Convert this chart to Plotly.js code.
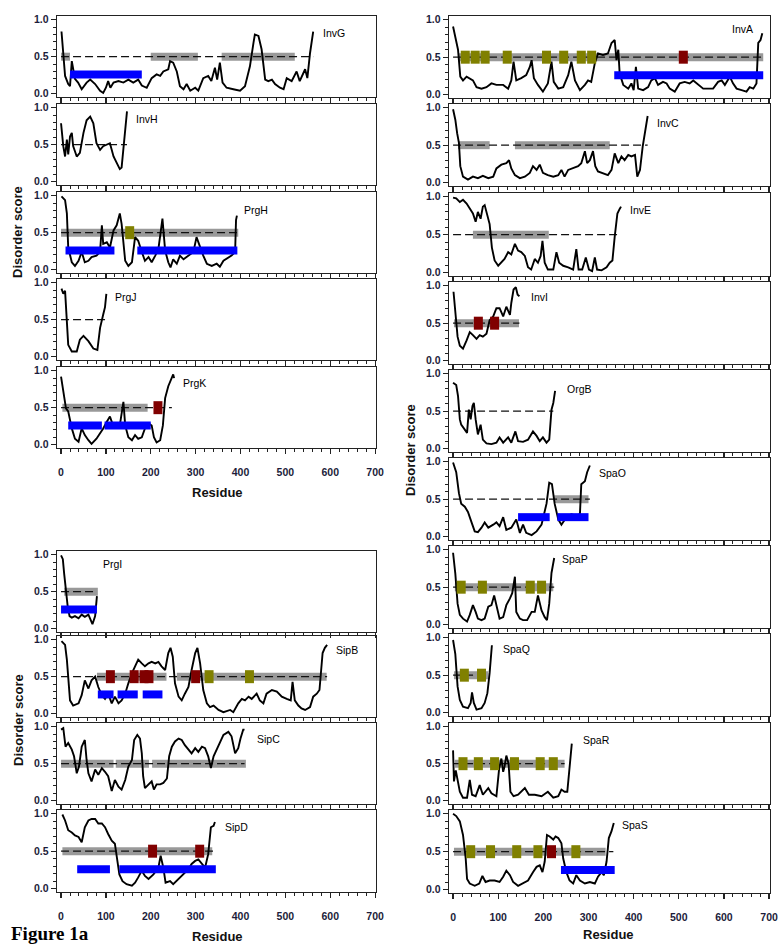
<!DOCTYPE html>
<html><head><meta charset="utf-8">
<script src="https://cdn.plot.ly/plotly-3.0.1.min.js"></script>
<style>html,body{margin:0;padding:0;background:#fff}#c{width:779px;height:945px}</style>
</head><body><div id="c"></div>
<script>
// ---------- DATA (residue, disorder score) ----------
const invG_x=[1,5,9,16,20,24,27,31,38,46,57,65,76,87,94,100,105,110,117,128,139,150,161,172,180,191,202,213,221,228,239,243,250,258,265,273,280,288,299,306,317,328,335,343,348,354,360,369,384,399,410,421,429,432,440,447,455,462,470,477,488,496,503,514,525,532,544,549,555,562];
const invG_y=[0.84,0.5,0.24,0.13,0.1,0.44,0.35,0.2,0.15,0.06,0.15,0.19,0.13,0.04,0.01,0.08,0.17,0.08,0.15,0.17,0.15,0.19,0.15,0.19,0.11,0.08,0.21,0.26,0.24,0.3,0.33,0.44,0.42,0.3,0.1,0.06,0.13,0.04,0.08,0.04,0.21,0.24,0.17,0.35,0.19,0.42,0.15,0.08,0.06,0.04,0.1,0.37,0.69,0.8,0.78,0.6,0.19,0.17,0.19,0.13,0.08,0.06,0.21,0.17,0.3,0.17,0.33,0.21,0.55,0.84];
const invH_x=[0,5,9,13,16,20,24,27,35,42,50,57,65,72,79,87,94,102,109,117,124,131,135,139,143,147];
const invH_y=[0.79,0.48,0.34,0.57,0.37,0.61,0.66,0.48,0.34,0.39,0.66,0.83,0.88,0.79,0.52,0.43,0.48,0.5,0.52,0.34,0.25,0.17,0.19,0.48,0.75,0.95];
const prgH_x=[1,9,13,16,24,31,39,46,53,61,68,79,87,91,94,102,109,117,124,131,135,143,150,158,165,172,180,187,195,202,210,217,221,226,232,239,244,250,258,265,273,284,295,302,310,317,325,336,347,354,362,373,380,388,390,392];
const prgH_y=[0.99,0.94,0.76,0.3,0.1,0.05,0.12,0.24,0.1,0.12,0.17,0.19,0.24,0.6,0.35,0.37,0.3,0.53,0.6,0.76,0.62,0.12,0.05,0.1,0.44,0.39,0.24,0.12,0.17,0.1,0.19,0.28,0.46,0.69,0.26,0.1,0.03,0.14,0.08,0.19,0.14,0.19,0.24,0.44,0.3,0.19,0.08,0.05,0.08,0.04,0.12,0.17,0.19,0.24,0.67,0.73];
const prgJ_x=[1,5,9,13,16,24,35,42,50,61,72,81,87,94,98,101];
const prgJ_y=[0.92,0.85,0.89,0.48,0.16,0.07,0.07,0.23,0.28,0.21,0.11,0.09,0.39,0.57,0.67,0.85];
const prgK_x=[0,4,7,11,16,24,31,39,46,53,61,68,79,87,94,102,109,117,124,131,139,143,150,158,165,172,180,187,195,202,207,213,221,227,232,239,247,250,252];
const prgK_y=[0.92,0.76,0.67,0.49,0.45,0.22,0.08,0.04,0.22,0.13,0.06,0.01,0.08,0.15,0.22,0.31,0.38,0.24,0.29,0.26,0.58,0.26,0.1,0.06,0.13,0.08,0.1,0.22,0.29,0.26,0.1,0.03,0.06,0.26,0.63,0.79,0.92,0.95,0.9];
const prgI_x=[0,4,7,11,15,19,24,31,39,46,53,61,65,70,76,80];
const prgI_y=[0.99,0.94,0.74,0.51,0.29,0.17,0.15,0.17,0.14,0.19,0.16,0.19,0.13,0.06,0.17,0.44];
const sipB_x=[1,9,13,16,20,27,39,46,53,61,68,76,83,91,98,105,113,120,128,135,143,150,158,165,172,180,187,195,202,210,217,224,232,239,244,249,254,262,269,276,284,291,299,304,310,317,325,332,340,351,362,377,384,395,403,410,418,425,436,443,451,458,470,481,492,503,512,516,521,529,536,544,555,562,570,576,579,583,588,593];
const sipB_y=[0.98,0.93,0.73,0.45,0.18,0.11,0.14,0.25,0.45,0.34,0.45,0.5,0.36,0.25,0.2,0.27,0.14,0.23,0.14,0.18,0.27,0.41,0.55,0.64,0.73,0.68,0.64,0.68,0.7,0.68,0.7,0.64,0.59,0.82,0.89,0.77,0.41,0.23,0.18,0.27,0.36,0.59,0.82,0.89,0.68,0.32,0.14,0.09,0.11,0.05,0.02,0.05,0.02,0.14,0.2,0.18,0.23,0.2,0.27,0.18,0.14,0.27,0.32,0.3,0.23,0.2,0.18,0.43,0.18,0.11,0.07,0.05,0.09,0.23,0.27,0.32,0.59,0.82,0.89,0.93];
const sipC_x=[0,5,10,16,24,29,35,40,46,53,57,61,68,76,83,91,98,105,113,120,128,135,143,150,158,163,170,176,180,183,187,195,202,207,213,221,228,236,241,247,254,262,269,276,284,291,299,306,314,321,328,334,340,347,354,362,373,380,388,395,400,406,409];
const sipC_y=[0.96,0.98,0.73,0.78,0.69,0.6,0.37,0.46,0.73,0.82,0.55,0.37,0.26,0.42,0.35,0.44,0.39,0.33,0.13,0.28,0.19,0.15,0.28,0.46,0.55,0.82,0.89,0.84,0.64,0.33,0.17,0.22,0.26,0.15,0.22,0.22,0.24,0.3,0.6,0.73,0.8,0.84,0.82,0.75,0.69,0.64,0.71,0.66,0.73,0.71,0.6,0.44,0.6,0.69,0.8,0.89,0.93,0.87,0.64,0.71,0.84,0.96,0.96];
const sipD_x=[3,9,16,24,31,39,46,53,61,68,76,83,91,98,105,113,120,126,130,137,146,158,165,172,180,187,195,206,217,222,228,233,243,250,262,273,284,291,299,306,314,321,328,334,340,343];
const sipD_y=[0.99,0.91,0.78,0.75,0.71,0.69,0.62,0.82,0.91,0.93,0.93,0.87,0.87,0.82,0.73,0.64,0.6,0.37,0.19,0.1,0.06,0.04,0.08,0.15,0.24,0.17,0.13,0.19,0.28,0.44,0.28,0.08,0.1,0.06,0.13,0.19,0.26,0.33,0.37,0.39,0.33,0.28,0.46,0.82,0.84,0.89];
const invA_x=[0,5,11,16,22,30,37,44,52,63,74,85,96,111,122,129,134,140,151,162,170,174,179,188,199,210,218,223,233,244,255,262,270,281,292,299,306,314,321,332,343,351,358,362,366,369,377,388,395,400,405,410,421,432,439,447,454,465,473,480,491,502,513,524,532,543,554,565,576,587,595,602,613,620,628,639,650,657,665,672,676,681,685];
const invA_y=[0.91,0.78,0.6,0.24,0.19,0.24,0.22,0.19,0.1,0.08,0.1,0.15,0.13,0.13,0.08,0.19,0.44,0.19,0.22,0.26,0.37,0.46,0.22,0.13,0.04,0.15,0.44,0.17,0.08,0.1,0.26,0.44,0.19,0.06,0.13,0.19,0.17,0.42,0.55,0.53,0.55,0.69,0.73,0.46,0.6,0.28,0.13,0.08,0.15,0.06,0.37,0.08,0.06,0.1,0.19,0.22,0.13,0.17,0.15,0.08,0.04,0.15,0.17,0.15,0.19,0.13,0.08,0.08,0.08,0.17,0.19,0.13,0.24,0.15,0.08,0.06,0.04,0.1,0.08,0.15,0.69,0.73,0.82];
const invC_x=[0,5,9,13,16,22,33,44,55,66,78,89,96,107,118,124,129,137,148,159,170,177,185,192,199,210,222,233,240,247,255,266,277,284,292,297,303,310,315,321,332,343,351,358,366,373,380,388,395,403,408,414,420,425,431];
const invC_y=[0.98,0.84,0.66,0.53,0.22,0.08,0.04,0.08,0.06,0.09,0.06,0.08,0.19,0.24,0.26,0.3,0.19,0.1,0.06,0.08,0.13,0.22,0.17,0.24,0.13,0.1,0.08,0.1,0.17,0.08,0.17,0.19,0.22,0.26,0.42,0.26,0.3,0.42,0.22,0.15,0.13,0.1,0.17,0.39,0.26,0.35,0.3,0.37,0.35,0.37,0.08,0.17,0.48,0.66,0.89];
const invE_x=[0,7,15,22,30,37,44,50,55,61,66,70,75,81,86,92,100,107,114,122,129,137,144,151,159,166,173,181,188,194,198,203,210,222,229,235,244,255,266,273,278,286,294,301,308,314,319,329,340,347,353,358,364,369,372];
const invE_y=[0.99,0.98,0.93,0.96,0.91,0.84,0.78,0.67,0.8,0.71,0.87,0.89,0.78,0.64,0.33,0.16,0.09,0.13,0.18,0.27,0.24,0.38,0.29,0.27,0.22,0.07,0.04,0.18,0.13,0.22,0.42,0.13,0.04,0.04,0.27,0.13,0.09,0.07,0.04,0.31,0.04,0.04,0.2,0.04,0.02,0.2,0.04,0.03,0.07,0.13,0.16,0.47,0.78,0.84,0.87];
const invI_x=[1,6,10,15,22,30,37,44,52,59,66,74,81,89,96,103,111,118,126,129,134,139,143,147];
const invI_y=[0.92,0.63,0.32,0.2,0.16,0.27,0.38,0.34,0.29,0.34,0.32,0.36,0.54,0.59,0.7,0.7,0.59,0.72,0.61,0.77,0.95,0.98,0.88,0.86];
const orgB_x=[0,7,11,15,18,26,31,35,39,43,46,50,55,61,66,74,85,96,103,111,122,129,138,144,155,166,177,185,192,199,207,213,218,222,226];
const orgB_y=[0.88,0.85,0.7,0.39,0.32,0.26,0.21,0.52,0.39,0.57,0.61,0.39,0.19,0.32,0.12,0.07,0.06,0.08,0.15,0.08,0.15,0.08,0.23,0.1,0.09,0.12,0.23,0.17,0.1,0.15,0.08,0.12,0.52,0.61,0.77];
const spaO_x=[0,7,13,18,26,33,41,48,55,63,70,78,89,96,103,111,118,129,140,148,155,162,174,185,196,207,213,219,225,233,240,251,262,273,281,284,292,297,303];
const spaO_y=[0.99,0.86,0.58,0.44,0.4,0.33,0.19,0.07,0.06,0.12,0.19,0.12,0.16,0.19,0.14,0.26,0.09,0.12,0.23,0.05,0.16,0.05,0.02,0.07,0.16,0.44,0.72,0.7,0.44,0.23,0.16,0.26,0.3,0.28,0.3,0.7,0.74,0.86,0.95];
const spaP_x=[0,5,10,15,22,31,37,44,50,55,63,70,78,85,91,96,103,111,118,126,131,137,140,148,155,164,174,181,188,196,203,208,213,218,224];
const spaP_y=[0.96,0.68,0.28,0.13,0.08,0.04,0.13,0.26,0.17,0.08,0.06,0.08,0.24,0.26,0.39,0.24,0.08,0.1,0.26,0.35,0.42,0.64,0.17,0.08,0.06,0.06,0.17,0.17,0.39,0.19,0.1,0.06,0.28,0.69,0.89];
const spaQ_x=[0,5,10,15,22,33,39,42,46,52,63,70,76,81,86];
const spaQ_y=[0.97,0.78,0.35,0.17,0.08,0.06,0.13,0.27,0.13,0.04,0.06,0.13,0.26,0.53,0.9];
const spaR_x=[0,2,6,10,15,22,31,37,42,50,59,66,78,85,96,102,107,111,114,118,123,127,134,144,151,159,168,181,196,210,222,233,240,247,253,258,263];
const spaR_y=[0.68,0.26,0.41,0.28,0.12,0.04,0.04,0.28,0.08,0.06,0.21,0.08,0.17,0.1,0.06,0.43,0.57,0.39,0.46,0.61,0.5,0.12,0.06,0.08,0.12,0.17,0.08,0.08,0.06,0.12,0.04,0.06,0.15,0.12,0.12,0.5,0.77];
const spaS_x=[0,7,15,22,28,31,37,48,58,65,72,81,92,103,111,118,126,133,144,155,166,177,185,192,198,203,208,214,222,227,233,240,244,251,258,266,273,281,292,303,314,321,329,334,340,345,351,356];
const spaS_y=[1.0,0.97,0.9,0.72,0.41,0.14,0.08,0.05,0.08,0.18,0.1,0.12,0.12,0.1,0.17,0.25,0.19,0.1,0.05,0.08,0.12,0.23,0.3,0.32,0.23,0.37,0.72,0.7,0.66,0.7,0.68,0.61,0.41,0.23,0.12,0.08,0.19,0.12,0.08,0.1,0.08,0.17,0.23,0.19,0.37,0.68,0.77,0.88];

// protein names and lengths (end of 0.5 threshold line)
const names=["InvG","InvH","PrgH","PrgJ","PrgK","PrgI","SipB","SipC","SipD","InvA","InvC","InvE","InvI","OrgB","SpaO","SpaP","SpaQ","SpaR","SpaS"];
const lengths=[562,147,392,101,247,80,593,409,340,685,431,372,147,222,303,224,80,247,355];
// gray regions (residue ranges) at threshold
const grayRegions=[[[0,20],[200,305],[358,521]],[],[[0,395]],[],[[3,193]],[[7,82]],[[80,235],[258,592]],[[0,117],[122,196],[203,412]],[[3,337]],
 [[11,687]],[[11,81],[137,347]],[[44,212]],[[2,146]],[],[[224,300]],[[4,222]],[[2,78]],[[4,247]],[[2,338]]];
// blue regions
const blueRegions=[[[20,180]],[],[[10,119],[170,393]],[],[[16,91],[97,200]],[[0,80]],[[82,117],[126,171],[182,226]],[],[[36,109],[130,345]],
 [[357,687]],[],[],[],[],[[144,214],[231,300]],[],[],[],[[239,358]]];
// olive and dark red site positions (residue)
const oliveSites=[[],[],[153],[],[],[],[330,420],[],[],[27,49,71,120,207,245,284,307],[],[],[],[],[],[18,65,171,196],[25,63],[22,56,92,136,193,222],[39,83,141,188,272]];
const redSites=[[],[],[],[],[216],[],[110,163,185,196,300],[],[204,309],[510],[],[],[56,92],[],[],[],[],[],[218]];
const curves=[[invG_x,invG_y],[invH_x,invH_y],[prgH_x,prgH_y],[prgJ_x,prgJ_y],[prgK_x,prgK_y],[prgI_x,prgI_y],[sipB_x,sipB_y],[sipC_x,sipC_y],[sipD_x,sipD_y],
 [invA_x,invA_y],[invC_x,invC_y],[invE_x,invE_y],[invI_x,invI_y],[orgB_x,orgB_y],[spaO_x,spaO_y],[spaP_x,spaP_y],[spaQ_x,spaQ_y],[spaR_x,spaR_y],[spaS_x,spaS_y]];
const xTicks=[0,100,200,300,400,500,600,700];
const yTicks=[0,0.5,1.0];

// ---------- LAYOUT (pixels) ----------
const W=779,H=945;
const panelPos=[ // [column, topPx, bottomPx, showXLabels, labelX, labelY]
 ['L',16,97,false,579,0.82],['L',104,185,false,163,0.85],['L',192,273,false,404,0.81],['L',279,360,false,115,0.81],['L',367,448,true,267,0.84],
 ['L',551,632,false,89,0.87],['L',636,717,false,609,0.86],['L',723,804,false,432,0.84],['L',810,892,true,362,0.82],
 ['R',16,98,false,613,0.87],['R',104,186,false,447,0.79],['R',193,276,false,388,0.82],['R',282,364,false,168,0.85],['R',370,452,false,247,0.8],
 ['R',458,540,false,318,0.85],['R',546,628,false,236,0.87],['R',634,716,false,106,0.85],['R',723,804,false,283,0.82],['R',810,893,true,369,0.85]];
const colX={L:[57,376],R:[449,770]};

const traces=[];const layout={width:W,height:H,margin:{l:0,r:0,t:0,b:0},showlegend:false,paper_bgcolor:'#fff',plot_bgcolor:'#fff',annotations:[]};
const tickFont={family:'Liberation Sans, Arial, sans-serif',size:10.5,color:'#1c1c3a',weight:700};
const THR=0.5, BLUE_Y=0.26, SQ=10;
function segs(list,yv){const x=[],y=[];list.forEach(r=>{x.push(r[0],r[1],null);y.push(yv,yv,null);});return {x,y};}
function sites(list,yv){const x=[],y=[];list.forEach(c=>{x.push(c-SQ,c+SQ,null);y.push(yv,yv,null);});return {x,y};}

names.forEach((nm,i)=>{
  const k=i+1, xa='x'+k, ya='y'+k, p=panelPos[i], cx=colX[p[0]];
  const xs= k===1?'xaxis':'xaxis'+k, ys= k===1?'yaxis':'yaxis'+k;
  layout[xs]={domain:[cx[0]/W,cx[1]/W],range:[-9,702],anchor:ya,showgrid:false,zeroline:false,showline:true,mirror:true,linecolor:'#222',linewidth:1.3,
    ticks:'outside',ticklen:5,tickwidth:1.2,tickcolor:'#222',tickvals:xTicks,showticklabels:p[3],tickfont:tickFont,ticklabelstandoff:9,
    minor:{dtick:20,tick0:0,ticks:'outside',ticklen:3,tickwidth:1,tickcolor:'#222'},fixedrange:true};
  layout[ys]={domain:[1-p[2]/H,1-p[1]/H],range:[-0.045,1.05],anchor:xa,showgrid:false,zeroline:false,showline:true,mirror:true,linecolor:'#222',linewidth:1.3,
    ticks:'outside',ticklen:5,tickwidth:1.2,tickcolor:'#222',tickvals:yTicks,ticktext:yTicks.map(v=>v.toFixed(1)),tickfont:tickFont,
    minor:{dtick:0.1,tick0:0,ticks:'outside',ticklen:3,tickwidth:1,tickcolor:'#222'},fixedrange:true};
  const g=segs(grayRegions[i],THR);
  if(g.x.length) traces.push({type:'scatter',mode:'lines',x:g.x,y:g.y,xaxis:xa,yaxis:ya,line:{color:'#999999',width:8},hoverinfo:'skip'});
  traces.push({type:'scatter',mode:'lines',x:[0,lengths[i]],y:[THR,THR],xaxis:xa,yaxis:ya,line:{color:'#111',width:1.3,dash:'8px,4px'},hoverinfo:'skip'});
  traces.push({type:'scatter',mode:'lines',x:curves[i][0],y:curves[i][1],xaxis:xa,yaxis:ya,line:{color:'#000',width:1.9}});
  const b=segs(blueRegions[i],BLUE_Y);
  if(b.x.length) traces.push({type:'scatter',mode:'lines',x:b.x,y:b.y,xaxis:xa,yaxis:ya,line:{color:'#0000ff',width:8},hoverinfo:'skip'});
  const o=sites(oliveSites[i],THR);
  if(o.x.length) traces.push({type:'scatter',mode:'lines',x:o.x,y:o.y,xaxis:xa,yaxis:ya,line:{color:'#808000',width:13},hoverinfo:'skip'});
  const r=sites(redSites[i],THR);
  if(r.x.length) traces.push({type:'scatter',mode:'lines',x:r.x,y:r.y,xaxis:xa,yaxis:ya,line:{color:'#800000',width:13},hoverinfo:'skip'});
  layout.annotations.push({xref:xa,yref:ya,x:p[4],y:p[5],text:nm,showarrow:false,xanchor:'left',yanchor:'middle',
    font:{family:'Liberation Sans, Arial, sans-serif',size:10.5,color:'#000'}});
});
const axFont={family:'Liberation Sans, Arial, sans-serif',size:13,color:'#111',weight:700};
[[217,492],[217,936],[608,934]].forEach(q=>layout.annotations.push({xref:'paper',yref:'paper',x:q[0]/W,y:1-q[1]/H,text:'Residue',showarrow:false,xanchor:'center',yanchor:'middle',font:axFont}));
[[18,232],[18,720],[410,450]].forEach(q=>layout.annotations.push({xref:'paper',yref:'paper',x:q[0]/W,y:1-q[1]/H,text:'Disorder score',textangle:-90,showarrow:false,xanchor:'center',yanchor:'middle',font:axFont}));
layout.annotations.push({xref:'paper',yref:'paper',x:9/W,y:1-921/H,text:'Figure 1a',showarrow:false,xanchor:'left',yanchor:'top',
  font:{family:'Liberation Serif, Times New Roman, serif',size:19,color:'#000',weight:700}});
Plotly.newPlot('c',traces,layout,{staticPlot:true,displayModeBar:false});
</script></body></html>
